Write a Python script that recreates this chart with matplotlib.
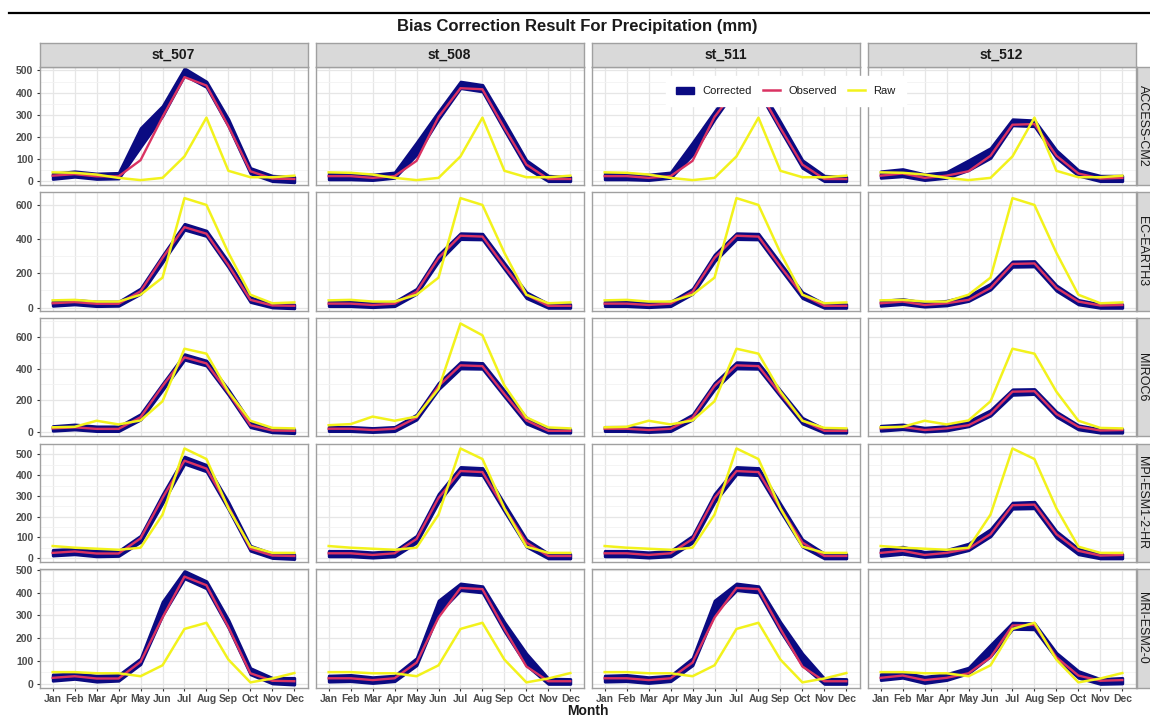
import matplotlib
matplotlib.use("Agg")
import matplotlib.pyplot as plt
from matplotlib.patches import Patch
from matplotlib.lines import Line2D

plt.rcParams["font.family"] = ["Liberation Sans", "DejaVu Sans"]

# ---------------------------------------------------------------- data
months = ["Jan", "Feb", "Mar", "Apr", "May", "Jun",
          "Jul", "Aug", "Sep", "Oct", "Nov", "Dec"]
stations = ["st_507", "st_508", "st_511", "st_512"]
models = ["ACCESS-CM2", "EC-EARTH3", "MIROC6", "MPI-ESM1-2-HR", "MRI-ESM2-0"]

# observed monthly precipitation (mm)
obs_st507 = [25, 32, 22, 22, 95, 290, 470, 432, 248, 45, 12, 10]
obs_st508 = [23, 23, 15, 23, 92, 290, 420, 415, 240, 75, 10, 10]
obs_st511 = [23, 23, 15, 23, 92, 290, 420, 415, 240, 75, 10, 10]
obs_st512 = [25, 35, 15, 25, 45, 115, 255, 258, 115, 35, 12, 15]

# raw GCM output (mm)
raw_access = [40, 38, 30, 15, 5, 15, 112, 287, 47, 18, 18, 25]
raw_ecearth = [42, 45, 35, 35, 75, 175, 640, 600, 320, 75, 25, 30]
raw_miroc = [32, 35, 73, 50, 75, 195, 524, 493, 255, 73, 28, 25]
raw_miroc_st508 = [45, 52, 99, 73, 99, 273, 682, 608, 294, 94, 31, 25]
raw_mpi = [58, 50, 45, 40, 50, 210, 529, 478, 240, 55, 25, 25]
raw_mri = [50, 50, 45, 45, 32, 80, 240, 267, 105, 5, 22, 46]

# bias-corrected ensemble spread (lower / upper, mm)
corr_st507_low = {
    "ACCESS-CM2":    [10, 20, 10, 12, 155, 295, 478, 425, 248, 35, 0, -5],
    "EC-EARTH3":     [10, 18, 8, 10, 80, 265, 455, 418, 235, 32, 0, -5],
    "MIROC6":        [10, 18, 8, 8, 80, 265, 455, 418, 235, 32, 0, -5],
    "MPI-ESM1-2-HR": [12, 18, 8, 10, 78, 265, 455, 418, 235, 35, 0, -5],
    "MRI-ESM2-0":    [12, 20, 8, 12, 85, 300, 462, 418, 245, 40, 0, -5],
}
corr_st507_high = {
    "ACCESS-CM2":    [35, 45, 35, 38, 240, 340, 510, 450, 280, 60, 25, 20],
    "EC-EARTH3":     [38, 45, 35, 35, 112, 305, 490, 450, 268, 60, 22, 18],
    "MIROC6":        [40, 50, 38, 38, 115, 305, 490, 450, 268, 62, 25, 20],
    "MPI-ESM1-2-HR": [40, 45, 35, 35, 108, 308, 490, 450, 270, 60, 22, 18],
    "MRI-ESM2-0":    [40, 45, 35, 38, 110, 360, 495, 450, 280, 68, 25, 25],
}
corr_st508_low = {
    "ACCESS-CM2":    [8, 8, 5, 15, 120, 280, 420, 405, 230, 60, 0, 0],
    "EC-EARTH3":     [8, 8, 2, 8, 80, 270, 400, 398, 225, 55, -2, -2],
    "MIROC6":        [8, 8, 2, 8, 80, 270, 400, 398, 225, 55, -2, -2],
    "MPI-ESM1-2-HR": [8, 8, 2, 8, 75, 270, 405, 400, 225, 55, -2, -2],
    "MRI-ESM2-0":    [8, 10, 2, 10, 80, 310, 410, 400, 230, 80, -2, -2],
}
corr_st508_high = {
    "ACCESS-CM2":    [35, 35, 30, 40, 175, 315, 450, 435, 268, 95, 25, 20],
    "EC-EARTH3":     [35, 35, 28, 35, 110, 310, 435, 432, 260, 90, 22, 20],
    "MIROC6":        [35, 35, 28, 35, 112, 310, 440, 435, 262, 92, 22, 20],
    "MPI-ESM1-2-HR": [35, 35, 28, 35, 108, 310, 440, 435, 262, 90, 22, 20],
    "MRI-ESM2-0":    [35, 38, 28, 35, 112, 365, 440, 428, 270, 132, 22, 20],
}
corr_st512_low = {
    "ACCESS-CM2":    [15, 22, 5, 15, 50, 105, 252, 248, 105, 25, 0, 0],
    "EC-EARTH3":     [10, 20, 5, 12, 38, 105, 238, 240, 98, 18, -2, -2],
    "MIROC6":        [10, 20, 5, 12, 38, 105, 235, 240, 98, 18, -2, -2],
    "MPI-ESM1-2-HR": [10, 20, 5, 12, 38, 105, 238, 240, 98, 18, -2, -2],
    "MRI-ESM2-0":    [15, 25, 2, 15, 45, 120, 240, 238, 110, 25, -2, 0],
}
corr_st512_high = {
    "ACCESS-CM2":    [45, 55, 32, 42, 95, 150, 280, 275, 140, 50, 25, 25],
    "EC-EARTH3":     [40, 50, 30, 40, 70, 140, 270, 272, 130, 45, 20, 20],
    "MIROC6":        [42, 50, 30, 40, 70, 140, 270, 272, 130, 45, 20, 22],
    "MPI-ESM1-2-HR": [42, 55, 30, 40, 70, 140, 268, 272, 130, 45, 20, 20],
    "MRI-ESM2-0":    [42, 50, 30, 42, 70, 170, 268, 265, 135, 55, 20, 25],
}

observed = {"st_507": obs_st507, "st_508": obs_st508,
            "st_511": obs_st511, "st_512": obs_st512}
raw_by_model = {"ACCESS-CM2": raw_access, "EC-EARTH3": raw_ecearth,
                "MIROC6": raw_miroc, "MPI-ESM1-2-HR": raw_mpi,
                "MRI-ESM2-0": raw_mri}
raw_special = {("st_508", "MIROC6"): raw_miroc_st508}
corr_low = {"st_507": corr_st507_low, "st_508": corr_st508_low,
            "st_511": corr_st508_low, "st_512": corr_st512_low}
corr_high = {"st_507": corr_st507_high, "st_508": corr_st508_high,
             "st_511": corr_st508_high, "st_512": corr_st512_high}

row_limits = [(-18, 517), (-19, 674), (-25, 717), (-19, 553), (-18, 503)]
row_ticks = [[0, 100, 200, 300, 400, 500], [0, 200, 400, 600],
             [0, 200, 400, 600], [0, 100, 200, 300, 400, 500],
             [0, 100, 200, 300, 400, 500]]

# ---------------------------------------------------------------- style
W, H = 1150, 717
NAVY = "#0B0B82"
RED = "#DA3262"
YELLOW = "#F2F21C"
STRIP = "#D9D9D9"
BORDER = "#A0A0A0"
GRID = "#E6E6E6"
TXT = "#4D4D4D"

fig = plt.figure(figsize=(W / 100, H / 100), dpi=100)


def rect(left, top, width, height):
    return [left / W, 1 - (top + height) / H, width / W, height / H]


col_left = [39.5, 315.5, 591.5, 867.5]
col_w = 268
row_top0, row_step, row_h = 66.7, 125.6, 118.5
x = list(range(1, 13))

for r, model in enumerate(models):
    top = row_top0 + r * row_step
    lo_y, hi_y = row_limits[r]
    ticks = row_ticks[r]
    step = ticks[1] - ticks[0]
    minor = [t + step / 2 for t in ticks[:-1]] + [ticks[-1] + step / 2]
    for c, st in enumerate(stations):
        ax = fig.add_axes(rect(col_left[c], top, col_w, row_h))
        ax.set_facecolor("white")
        ax.set_xlim(0.4, 12.6)
        ax.set_ylim(lo_y, hi_y)
        ax.set_xticks(x)
        ax.set_yticks(ticks)
        ax.set_yticks([m for m in minor if lo_y < m < hi_y], minor=True)
        ax.grid(True, which="major", color=GRID, lw=0.9, zorder=0)
        ax.grid(True, which="minor", axis="y", color="#F2F2F2", lw=0.6, zorder=0)
        ax.set_axisbelow(True)
        for sp in ax.spines.values():
            sp.set_color(BORDER)
            sp.set_linewidth(1.0)
        ax.tick_params(axis="both", which="major", length=2.5, width=0.8,
                       color="#333333", labelcolor=TXT, labelsize=7.5, pad=2)
        ax.tick_params(axis="y", which="minor", length=0)
        if c == 0:
            ax.set_yticklabels([str(t) for t in ticks], fontweight="bold")
        else:
            ax.tick_params(axis="y", left=False, labelleft=False)
        if r == len(models) - 1:
            ax.set_xticklabels(months, fontweight="bold")
        else:
            ax.tick_params(axis="x", bottom=False, labelbottom=False)

        lo = corr_low[st][model]
        hi = corr_high[st][model]
        raw = raw_special.get((st, model), raw_by_model[model])
        ax.fill_between(x, lo, hi, color=NAVY, lw=2.0, edgecolor=NAVY,
                        joinstyle="round", zorder=2)
        ax.plot(x, observed[st], color=RED, lw=1.7, zorder=3)
        ax.plot(x, raw, color=YELLOW, lw=1.8, zorder=4)

        # column strip on top row
        if r == 0:
            sax = fig.add_axes(rect(col_left[c], 42.7, col_w, 24))
            sax.set_facecolor(STRIP)
            sax.set_xticks([])
            sax.set_yticks([])
            for sp in sax.spines.values():
                sp.set_color(BORDER)
                sp.set_linewidth(1.0)
            sax.text(0.5, 0.5, st, ha="center", va="center", fontsize=10,
                     fontweight="bold", color="#1A1A1A", transform=sax.transAxes)

    # row strip on the right
    rax = fig.add_axes(rect(1136.5, top, 24, row_h))
    rax.set_facecolor(STRIP)
    rax.set_xticks([])
    rax.set_yticks([])
    for sp in rax.spines.values():
        sp.set_color(BORDER)
        sp.set_linewidth(1.0)
    fig.text(1142.5 / W, 1 - (top + row_h / 2) / H, model, rotation=-90,
             ha="center", va="center", fontsize=9, color="#1A1A1A")

# header rule and title
fig.add_artist(Line2D([9 / W, 1.0], [1 - 12.7 / H] * 2, color="black", lw=1.6))
fig.text(577 / W, 1 - 27 / H, "Bias Correction Result For Precipitation (mm)",
         ha="center", va="center", fontsize=12, fontweight="bold", color="#1A1A1A")
fig.text(587.5 / W, 1 - 711 / H, "Month", ha="center", va="center",
         fontsize=10, fontweight="bold", color="#1A1A1A")

handles = [Patch(facecolor=NAVY, edgecolor=NAVY),
           Line2D([], [], color=RED, lw=1.8),
           Line2D([], [], color=YELLOW, lw=1.8)]
leg = fig.legend(handles, ["Corrected", "Observed", "Raw"], loc="center",
                 bbox_to_anchor=(786 / W, 1 - 91 / H), ncol=3, fontsize=8,
                 frameon=True, fancybox=False, facecolor="white",
                 edgecolor="white", framealpha=1.0, handlelength=1.6,
                 handleheight=0.6, handletextpad=0.7, columnspacing=1.0,
                 borderpad=0.9)
for t in leg.get_texts():
    t.set_color("#1A1A1A")

fig.savefig("out.png", dpi=100)
